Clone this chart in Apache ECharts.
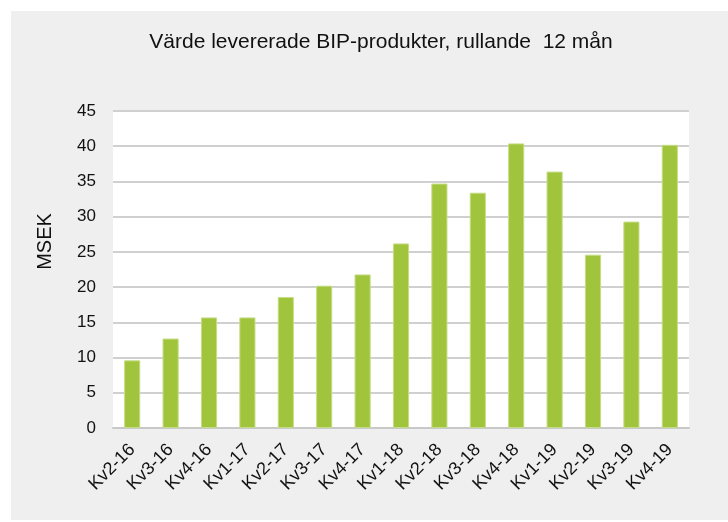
<!DOCTYPE html>
<html>
<head>
<meta charset="utf-8">
<script src="https://cdn.jsdelivr.net/npm/echarts@6/dist/echarts.min.js"></script>
<style>
  html, body { margin: 0; padding: 0; background: #fff; }
  #chart { width: 728px; height: 522px; }
</style>
</head>
<body>
<div id="chart"></div>
<script>
// kvartal och värden (MSEK)
const categories = ['Kv2-16', 'Kv3-16', 'Kv4-16', 'Kv1-17', 'Kv2-17', 'Kv3-17', 'Kv4-17',
  'Kv1-18', 'Kv2-18', 'Kv3-18', 'Kv4-18', 'Kv1-19', 'Kv2-19', 'Kv3-19', 'Kv4-19']
const values = [9.6, 12.7, 15.7, 15.7, 18.6, 20.2, 21.8, 26.2, 34.7, 33.4, 40.4, 36.4, 24.6, 29.3, 40.2]

const chart = echarts.init(document.getElementById('chart'))

const option = {
  backgroundColor: '#fff',
  textStyle: { fontFamily: 'Liberation Sans, Arial, sans-serif' },
  graphic: [
    {
      type: 'rect',
      z: -10,
      shape: { x: 11, y: 11, width: 717, height: 509 },
      style: { fill: '#efefef' }
    }
  ],
  title: {
    text: 'Värde levererade BIP-produkter, rullande  12 mån',
    left: 376,
    textAlign: 'center',
    top: 27,
    textStyle: { fontSize: 21, fontWeight: 'normal', color: '#111' }
  },
  grid: {
    left: 113,
    right: 39,
    top: 111,
    bottom: 94,
    show: true,
    backgroundColor: '#fff',
    borderWidth: 0
  },
  xAxis: {
    type: 'category',
    data: categories,
    axisLine: { show: true, lineStyle: { color: '#c8c8c8', width: 2 } },
    axisTick: { show: false },
    axisLabel: { rotate: 45, color: '#111', fontSize: 18, margin: 19, interval: 0 }
  },
  yAxis: {
    type: 'value',
    min: 0,
    max: 45,
    interval: 5,
    name: 'MSEK',
    nameLocation: 'middle',
    nameGap: 58,
    nameTextStyle: { fontSize: 20, color: '#111', padding: [0, 0, 0, 56] },
    axisLine: { show: false },
    axisTick: { show: false },
    axisLabel: { color: '#111', fontSize: 17, margin: 17 },
    splitLine: { lineStyle: { color: '#d0d0d0', width: 2 } }
  },
  series: [
    {
      type: 'bar',
      data: values,
      barWidth: '42%',
      itemStyle: { color: '#a0c43c', borderColor: '#c6dd85', borderWidth: 1 }
    }
  ]
}

chart.setOption(option)
</script>
</body>
</html>
